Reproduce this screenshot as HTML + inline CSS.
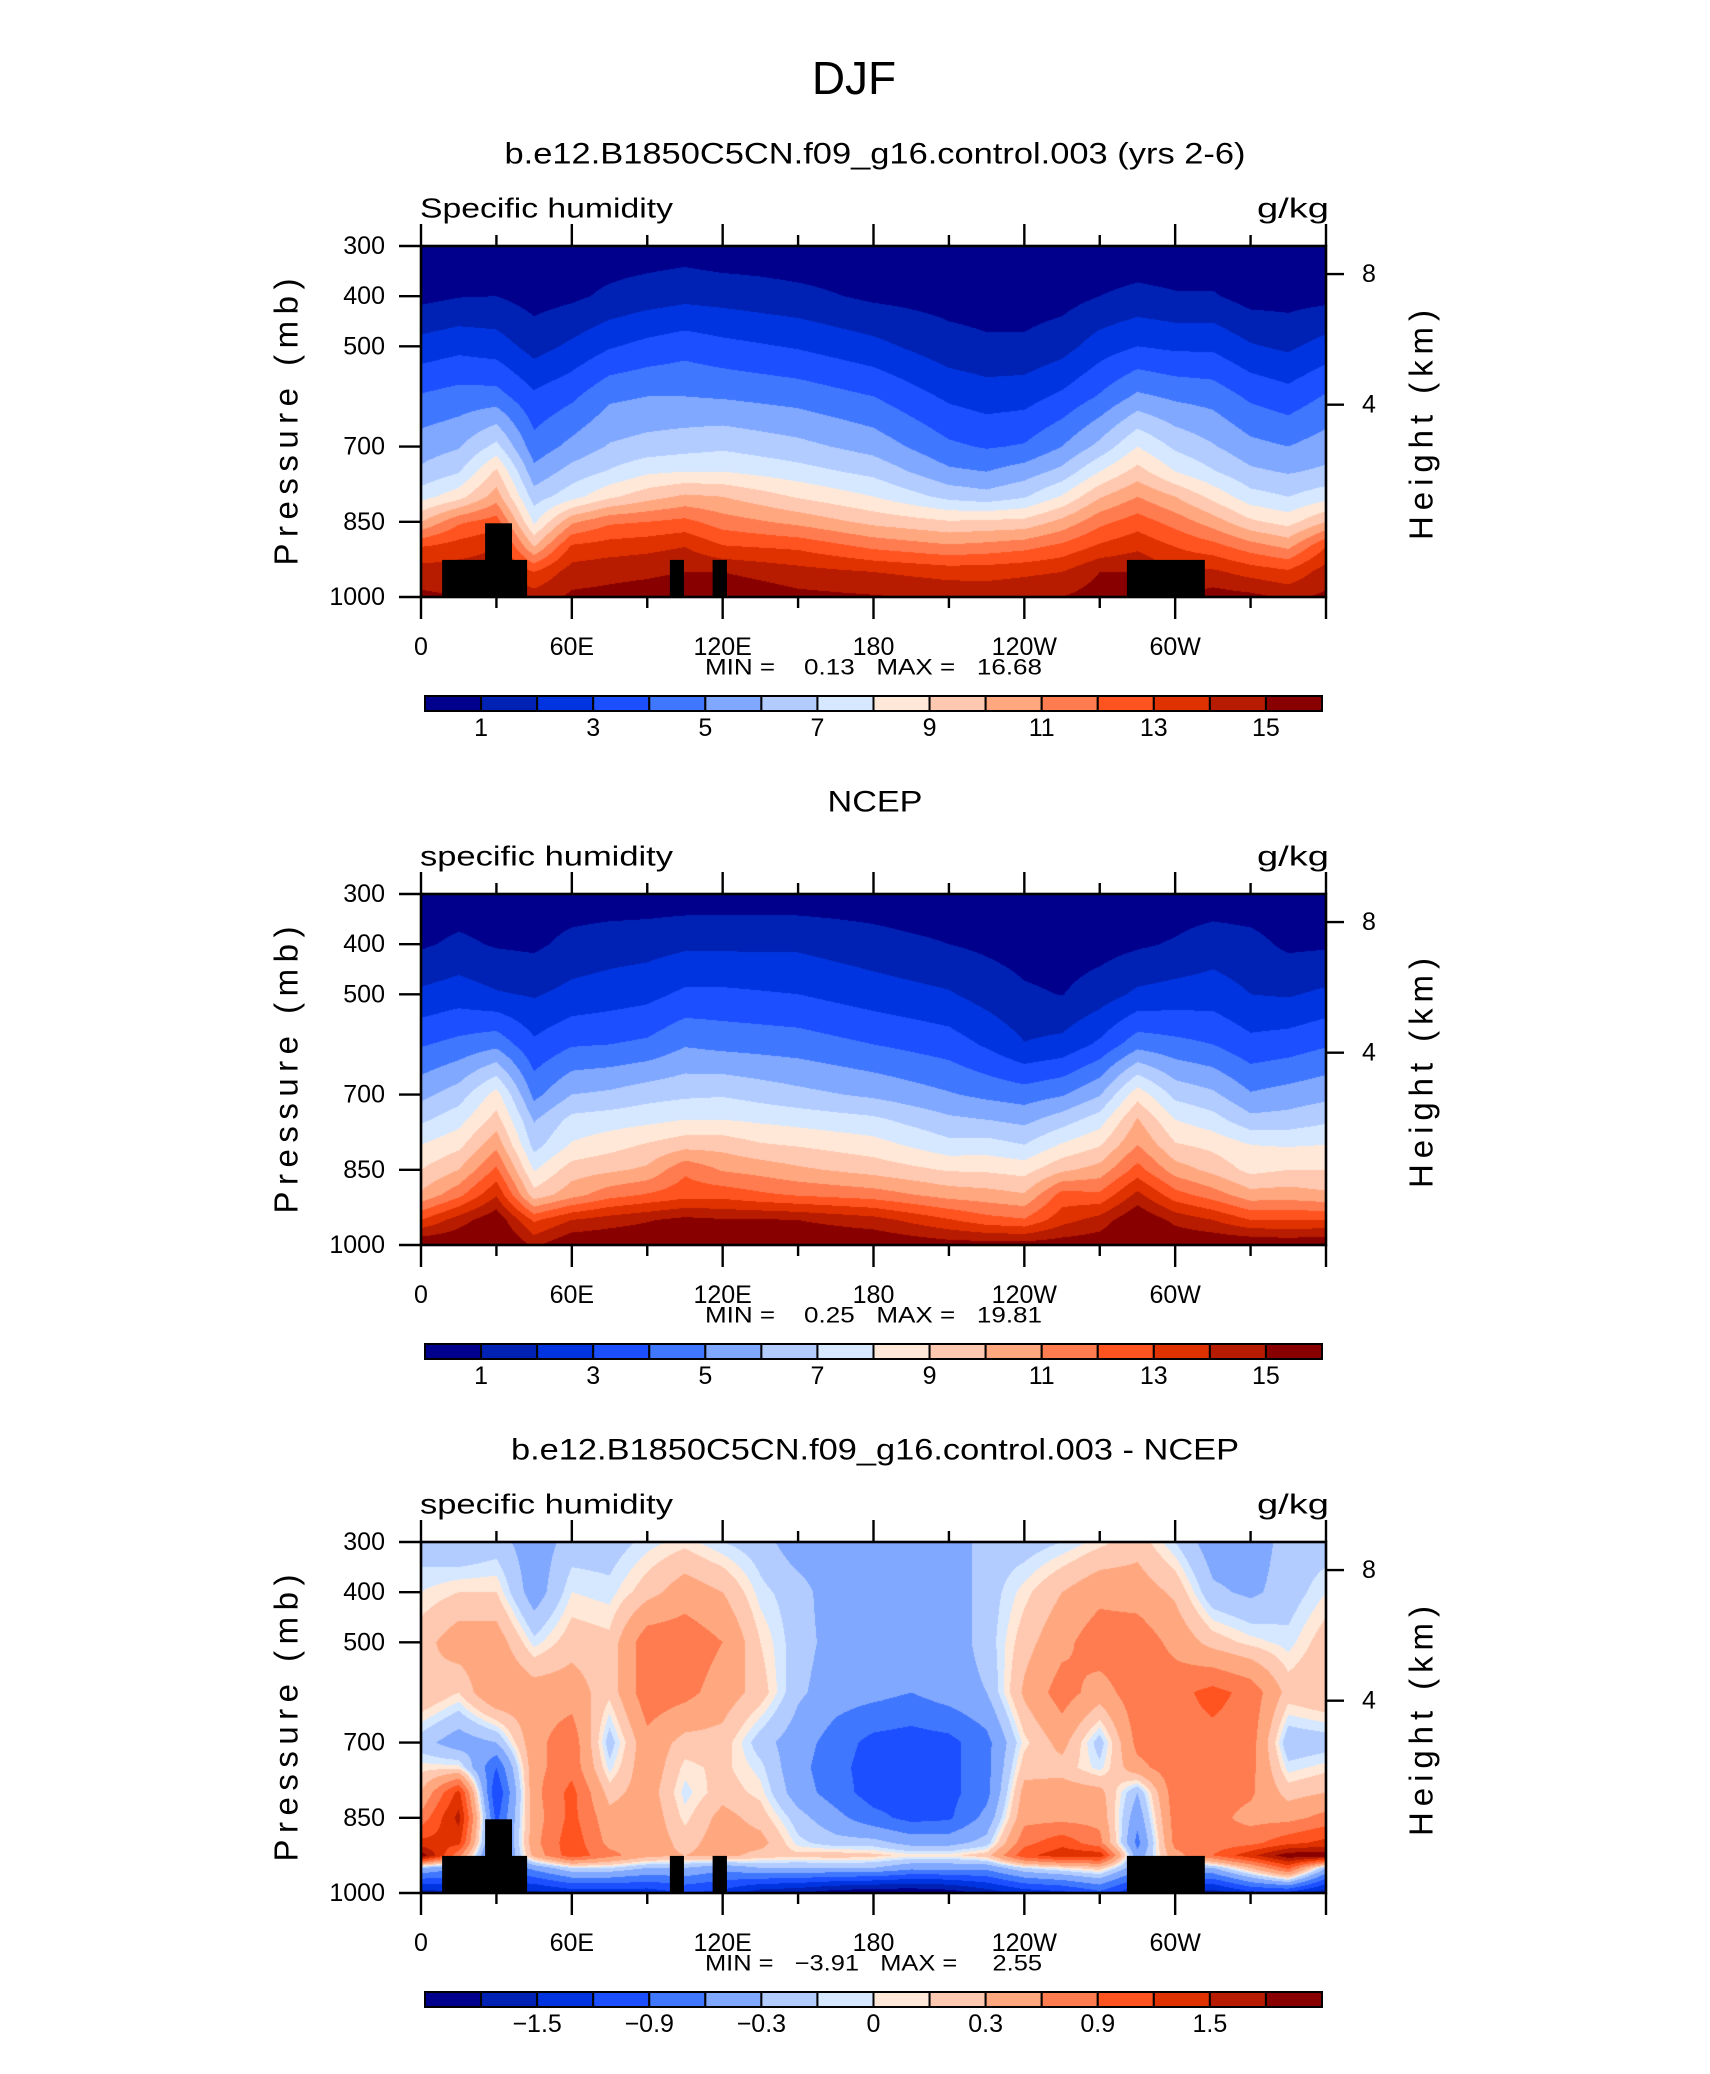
<!DOCTYPE html>
<html><head><meta charset="utf-8">
<style>
body{margin:0;width:1710px;height:2074px;background:#fff;position:relative;overflow:hidden;font-family:"Liberation Sans",sans-serif}
canvas{position:absolute}
svg{position:absolute;left:0;top:0}
text{font-family:"Liberation Sans",sans-serif;fill:#000;white-space:pre}
</style></head>
<body>
<canvas id="c0" width="905" height="351" style="left:421px;top:246px"></canvas>
<canvas id="c1" width="905" height="351" style="left:421px;top:894px"></canvas>
<canvas id="c2" width="905" height="351" style="left:421px;top:1542px"></canvas>
<svg id="ov" width="1710" height="2074">
<text x="854" y="78" font-size="46" text-anchor="middle" dominant-baseline="central">DJF</text>
</svg>
<script>
// ---------- data ----------
const LONS = [0,15,30,45,60,75,90,105,120,135,150,165,180,195,210,225,240,255,270,285,300,315,330,345,360];
const PRES_Q = [300,400,500,600,700,750,800,850,900,950,1000];
const PRES_D = [300,400,500,600,700,750,800,850,900,925,950,1000];
const LEVELS_Q = [1,2,3,4,5,6,7,8,9,10,11,12,13,14,15];
const LEVELS_D = [-1.8,-1.5,-1.2,-0.9,-0.6,-0.3,-0.1,0,0.1,0.3,0.6,0.9,1.2,1.5,1.8];
const CB_LABELS_Q = ["1","3","5","7","9","11","13","15"];
const CB_LABEL_POS_Q = [1,3,5,7,9,11,13,15];
const CB_LABELS_D = ["\u22121.5","\u22120.9","\u22120.3","0","0.3","0.9","1.5"];
const CB_LABEL_POS_D = [2,4,6,8,10,12,14];
const X_TICK_LONS = [0,60,120,180,240,300];
const X_TICK_LABELS = ["0","60E","120E","180","120W","60W"];
const Y_TICK_PRES = [300,400,500,700,850,1000];
const HEIGHT_KM = [8,4];
const Q_MODEL = [
[0.4,0.7,2.4,4.1,5.5,6.2,7.6,10,13,14.5,15.2],
[0.4,0.95,2.7,4.4,5.9,6.9,8.6,11.8,13.5,14.5,15],
[0.4,1.0,2.5,4.4,7.3,9.2,10.5,12.5,14,14.5,15],
[0.3,0.6,1.6,3.2,4.4,5.3,6.5,7.8,10,13,14.5],
[0.4,0.8,2.2,3.8,5.3,6.4,7.6,10.8,13.2,14.5,15.2],
[0.4,1.2,2.9,4.8,6.1,7.1,8.8,11.8,13.5,14.7,15.3],
[0.4,1.5,3.3,5.0,6.4,7.8,9.6,12,13.7,14.8,15.5],
[0.5,1.7,3.6,5.0,6.6,8.0,10.2,12.3,14,15,15.8],
[0.3,1.6,3.3,4.9,6.8,8.0,10,11.5,13.1,15.0,15.8],
[0.3,1.45,3.1,4.75,6.55,7.7,9.45,11.1,12.95,14.7,15.6],
[0.2,1.3,2.9,4.6,6.3,7.4,8.9,10.7,12.8,14.4,15.3],
[0.2,1.05,2.6,4.3,5.95,7.05,8.45,10.2,12.3,14.2,15.2],
[0.2,0.8,2.3,4.0,5.6,6.7,8.0,9.7,11.8,14.0,15.1],
[0.2,0.7,1.85,3.4,4.9,5.95,7.35,9.4,11.5,13.8,14.95],
[0.2,0.6,1.4,2.8,4.2,5.2,6.7,9.1,11.2,13.6,14.8],
[0.2,0.5,1.2,2.5,3.9,5.0,6.4,9.2,11.4,13.6,14.7],
[0.2,0.5,1.2,2.6,4.1,5.5,6.9,9.3,11.7,13.8,14.8],
[0.2,0.6,1.6,3.2,5.0,6.3,8.1,10.3,12.3,14.0,15],
[0.2,1.0,2.5,4.1,6.3,8.0,9.9,11.7,13.2,15.0,15.5],
[0.2,1.3,3.0,5.2,8.0,9.4,11,12.5,13.8,15,15.5],
[0.2,1.1,2.8,4.8,6.8,8.0,10,11.6,13.0,14,15],
[0.2,1.1,2.8,4.6,6.1,7.1,8.7,10.5,12.4,14.2,15.5],
[0.2,0.6,2.1,3.8,5.3,6.2,7.4,9.2,11.5,13.6,15.3],
[0.2,0.6,1.8,3.4,5.0,5.9,7.0,8.6,10.8,13.2,14.8],
[0.4,0.7,2.4,4.1,5.5,6.2,7.6,10,13,14.5,15.2]
];
const Q_NCEP = [
[0.4,0.85,2.2,3.9,5.7,6.8,8.0,9.0,10.2,13,16],
[0.4,1.2,2.5,4.3,6.5,7.6,8.7,10,11.7,14.5,16],
[0.4,0.9,2.1,4.7,8.4,9.4,10.7,12.2,13.9,15.8,16.5],
[0.4,0.8,1.9,3.2,4.7,5.9,6.6,7.9,9.4,12.8,14.8],
[0.4,1.3,2.3,3.9,6.0,7.3,8.1,9.5,10.6,14,16],
[0.4,1.5,2.5,4.0,6.2,7.5,8.6,9.8,11.6,14.5,16],
[0.4,1.6,2.7,4.2,6.6,7.7,9.1,10.2,12.1,14.9,16],
[0.4,1.8,3.2,4.9,6.8,8.0,9.6,11.8,12.6,15.3,16],
[0.4,1.8,3.2,4.7,6.9,8.0,9.6,10.9,12.6,15.1,16],
[0.4,1.8,3.1,4.6,6.6,7.8,9.1,10.6,12.2,15.1,16],
[0.4,1.8,3.0,4.5,6.3,7.6,8.9,10.2,11.9,15,16],
[0.4,1.6,2.75,4.25,6.05,7.4,8.65,9.9,11.7,14.7,16],
[0.4,1.4,2.5,4.0,5.8,7.2,8.4,9.6,11.5,14.4,16],
[0.3,1.2,2.3,3.75,5.45,6.7,7.85,9.25,11.05,13.75,15.75],
[0.3,1.0,2.1,3.5,5.1,6.2,7.3,8.9,10.6,13.1,15.5],
[0.3,0.8,1.6,2.85,4.75,6.0,7.4,8.85,10.4,12.4,15.5],
[0.2,0.6,1.15,2.05,4.5,5.7,7.0,8.6,10.1,12.1,15.5],
[0.2,0.5,0.97,2.3,4.9,6.5,8.1,9.8,12.4,13.6,15.6],
[0.2,0.6,1.5,3.2,5.9,7.5,8.9,10.4,12.2,14.4,15.7],
[0.3,0.85,2.2,4.6,8.6,10.1,11,12.4,14.3,16,16.5],
[0.4,1.1,2.4,4.3,6.7,8.0,9.1,10.5,12.4,14.7,16],
[0.4,1.5,2.5,4.0,6.2,7.4,8.7,9.7,11.5,14,16],
[0.4,1.3,2.0,3.3,5.1,6.3,8.0,8.7,10.4,13,16],
[0.4,0.8,1.9,3.5,5.4,6.4,7.9,9.0,10.5,13,15.8],
[0.4,0.85,2.2,3.9,5.7,6.8,8.0,9.0,10.2,13,16]
];
const Q_DIFF = [
[-0.2,0.0,0.2,0.3,-0.2,0.05,0.3,0.7,1.3,2.0,-0.3,-1.7],
[-0.3,0.1,0.45,0.1,-0.45,0.05,1.3,1.6,1.3,0.7,-0.6,-1.5],
[-0.2,0.1,0.45,0.6,-0.3,-0.9,-1.2,-1.0,-1.0,-1.0,-1.0,-1.5],
[-0.45,-0.45,-0.05,0.45,0.5,0.5,0.5,0.45,0.5,0.4,-0.5,-1.6],
[-0.2,0.0,0.2,0.45,0.8,0.8,1.0,1.0,1.1,1.1,-0.1,-1.4],
[-0.2,-0.05,0.15,0.15,-0.2,-0.05,0.2,0.4,0.5,0.7,-0.1,-1.4],
[-0.05,0.2,0.8,0.8,0.5,0.5,0.45,0.5,0.5,0.4,-0.3,-1.4],
[0.05,0.45,0.8,0.7,0.2,0.05,-0.05,0.05,0.2,0.3,-0.3,-1.2],
[-0.1,0.3,0.6,0.45,0.2,0.15,0.2,0.4,0.45,0.4,-0.5,-1.3],
[-0.2,-0.05,0.1,0.2,-0.2,-0.05,0.05,0.2,0.4,0.2,-0.3,-1.7],
[-0.45,-0.2,-0.2,-0.25,-0.45,-0.5,-0.45,-0.2,-0.05,0.15,-0.3,-1.8],
[-0.45,-0.45,-0.4,-0.45,-0.75,-0.8,-0.75,-0.5,-0.2,0.2,-0.3,-2.0],
[-0.45,-0.45,-0.45,-0.5,-1.0,-1.05,-1.05,-0.8,-0.2,0.15,-0.3,-2.1],
[-0.45,-0.45,-0.45,-0.6,-1.05,-1.05,-1.05,-1.0,-0.4,0.05,-0.5,-2.1],
[-0.45,-0.45,-0.45,-0.45,-1.0,-1.0,-1.0,-0.95,-0.4,0.05,-0.5,-2.0],
[-0.2,-0.2,-0.2,-0.3,-0.7,-0.7,-0.7,-0.5,-0.2,0.2,-0.5,-1.7],
[-0.2,0.05,0.2,0.35,0.05,0.2,0.4,0.5,0.8,1.1,-0.1,-1.4],
[-0.1,0.3,0.5,0.75,0.4,0.2,0.45,0.5,1.1,1.4,0.05,-1.3],
[0.05,0.5,0.8,0.45,-0.2,-0.05,0.4,0.5,0.7,1.4,0.2,-1.0],
[0.2,0.45,0.8,0.8,0.7,0.5,-0.3,-0.5,-0.7,-0.5,-0.5,-1.5],
[-0.1,0.25,0.5,0.8,0.8,0.8,0.8,0.75,0.7,0.5,-0.5,-1.5],
[-0.45,-0.25,0.2,1.0,0.8,0.8,0.75,0.7,0.7,0.9,-0.3,-1.7],
[-0.45,-0.35,0.05,0.8,0.75,0.7,0.65,0.5,0.8,1.4,0.3,-1.3],
[-0.2,-0.2,-0.05,0.2,-0.25,-0.05,0.2,0.5,1.1,2.0,1.0,-1.3],
[-0.2,0.0,0.2,0.3,-0.2,0.05,0.3,0.7,1.3,2.0,-0.3,-1.7]
];
const TOPO_LON0 = [8.4,25.5,99,116,280.8];
const TOPO_LON1 = [42.2,36.2,104.6,121.7,311.8];
const TOPO_PTOP = [926,853,926,926,926];
const TITLES = ["b.e12.B1850C5CN.f09_g16.control.003 (yrs 2-6)","NCEP","b.e12.B1850C5CN.f09_g16.control.003 - NCEP"];
const TITLE_W = [741,95,728];
const SUBTITLES = ["Specific humidity","specific humidity","specific humidity"];
const MINMAX = ["MIN =    0.13   MAX =   16.68","MIN =    0.25   MAX =   19.81","MIN =   \u22123.91   MAX =     2.55"];

const PX0=421, PW=905, PH=351, TOPS=[246,894,1542];
const CBX0=425, CBW=897;
const COLORS=["#00008c","#0022b4","#0034e0","#1c4fff","#4077ff","#80a8ff","#b2ccff","#d6e8ff","#ffe8d8","#ffc8b0","#ffa880","#ff7c50","#ff5420","#e03200","#b81c00","#880000"];
const RGB=COLORS.map(c=>[parseInt(c.slice(1,3),16),parseInt(c.slice(3,5),16),parseInt(c.slice(5,7),16)]);
const NS="http://www.w3.org/2000/svg";
const ov=document.getElementById('ov');
function xOf(lon){return PX0+lon/360*PW;}
function yOf(p,top){return top+(p-300)/700*PH;}
function mk(tag,attrs,parent){const e=document.createElementNS(NS,tag);for(const k in attrs)e.setAttribute(k,attrs[k]);(parent||ov).appendChild(e);return e;}
function txt(x,y,s,size,anchor){const t=mk('text',{x:x,y:y,'font-size':size,'text-anchor':anchor||'middle','dominant-baseline':'central'});t.textContent=s;return t;}
function bandOf(v,levels){let k=0;while(k<levels.length&&v>=levels[k])k++;return k;}
function sample(grid,pres,lon,p){
  let i=Math.min(LONS.length-2,Math.floor(lon/15));const fx=(lon-LONS[i])/15;
  let j=0;while(j<pres.length-2&&p>pres[j+1])j++;
  const fy=Math.max(0,Math.min(1,(p-pres[j])/(pres[j+1]-pres[j])));
  const a=grid[i][j],b=grid[i+1][j],c=grid[i][j+1],d=grid[i+1][j+1];
  return (a*(1-fx)+b*fx)*(1-fy)+(c*(1-fx)+d*fx)*fy;
}
function drawField(id,grid,pres,levels){
  const cv=document.getElementById(id);const ctx=cv.getContext('2d');
  const img=ctx.createImageData(PW,PH);
  for(let y=0;y<PH;y++){const p=300+(y+0.5)/PH*700;
    for(let x=0;x<PW;x++){const lon=(x+0.5)/PW*360;
      const col=RGB[bandOf(sample(grid,pres,lon,p),levels)];
      const o=(y*PW+x)*4;img.data[o]=col[0];img.data[o+1]=col[1];img.data[o+2]=col[2];img.data[o+3]=255;}}
  ctx.putImageData(img,0,0);
}
drawField('c0',Q_MODEL,PRES_Q,LEVELS_Q);
drawField('c1',Q_NCEP,PRES_Q,LEVELS_Q);
drawField('c2',Q_DIFF,PRES_D,LEVELS_D);

function hgtP(km){return 1013.25*Math.pow(1-2.25577e-5*km*1000,5.25588);}

for(let k=0;k<3;k++){
  const top=TOPS[k], bot=top+PH;
  const t=txt(875,top-92,TITLES[k],30);
  t.setAttribute('textLength',String(TITLE_W[k]));
  t.setAttribute('lengthAdjust','spacingAndGlyphs');
  
  
  const st=txt(420,top-38,SUBTITLES[k],28,'start');
  st.setAttribute('textLength','253');
  st.setAttribute('lengthAdjust','spacingAndGlyphs');
  
  
  const un=txt(1257,top-38,'g/kg',28,'start');
  un.setAttribute('textLength','72');
  un.setAttribute('lengthAdjust','spacingAndGlyphs');
  
  
  if(k!==1){
    for(let i=0;i<TOPO_LON0.length;i++){
      const r=mk('rect',{x:xOf(TOPO_LON0[i]),y:yOf(TOPO_PTOP[i],top),width:xOf(TOPO_LON1[i])-xOf(TOPO_LON0[i]),height:bot-yOf(TOPO_PTOP[i],top),fill:'#000'});
      
      
    }
  }
  const fr=mk('rect',{x:PX0,y:top,width:PW,height:PH,fill:'none',stroke:'#000','stroke-width':2.6});
  
  
  for(let lon=0;lon<=360;lon+=30){
    const major=lon%60===0, L=major?22:11, x=xOf(lon);
    const t1=mk('line',{x1:x,y1:top,x2:x,y2:top-L,stroke:'#000','stroke-width':2.4});
    
    
    const t2=mk('line',{x1:x,y1:bot,x2:x,y2:bot+L,stroke:'#000','stroke-width':2.4});
    
    
  }
  X_TICK_LONS.forEach((lon,i)=>{
    const l=txt(xOf(lon),bot+50,X_TICK_LABELS[i],25);
    
    
  });
  Y_TICK_PRES.forEach(p=>{
    const y=yOf(p,top);
    const tl=mk('line',{x1:PX0-22,y1:y,x2:PX0,y2:y,stroke:'#000','stroke-width':2.4});
    
    
    const l=txt(385,y,String(p),25,'end');
    
    
  });
  HEIGHT_KM.forEach(h=>{
    const y=yOf(hgtP(h),top);
    const tl=mk('line',{x1:PX0+PW,y1:y,x2:PX0+PW+18,y2:y,stroke:'#000','stroke-width':2.4});
    
    
    const l=txt(1362,y,String(h),25,'start');
    
    
  });
  const yl=txt(0,0,'Pressure (mb)',33);
  yl.setAttribute('transform','translate(286,'+(top+176)+') rotate(-90)');
  yl.setAttribute('textLength','287');
  
  
  const hl=txt(0,0,'Height (km)',33);
  hl.setAttribute('transform','translate(1421,'+(top+179)+') rotate(-90)');
  hl.setAttribute('textLength','230');
  
  
  const mm=txt(705,top+421,MINMAX[k],22,'start');
  mm.setAttribute('textLength','337');
  mm.setAttribute('lengthAdjust','spacingAndGlyphs');
  
  
  const cby=top+450, bw=CBW/16;
  for(let b=0;b<16;b++){
    const r=mk('rect',{x:CBX0+b*bw,y:cby,width:bw,height:15,fill:COLORS[b],stroke:'#000','stroke-width':2});
    
    
  }
  const labs=k===2?CB_LABELS_D:CB_LABELS_Q, pos=k===2?CB_LABEL_POS_D:CB_LABEL_POS_Q;
  labs.forEach((s,i)=>{
    const l=txt(CBX0+pos[i]*bw,top+482,s,25);
    
    
  });
}
</script>
</body></html>
